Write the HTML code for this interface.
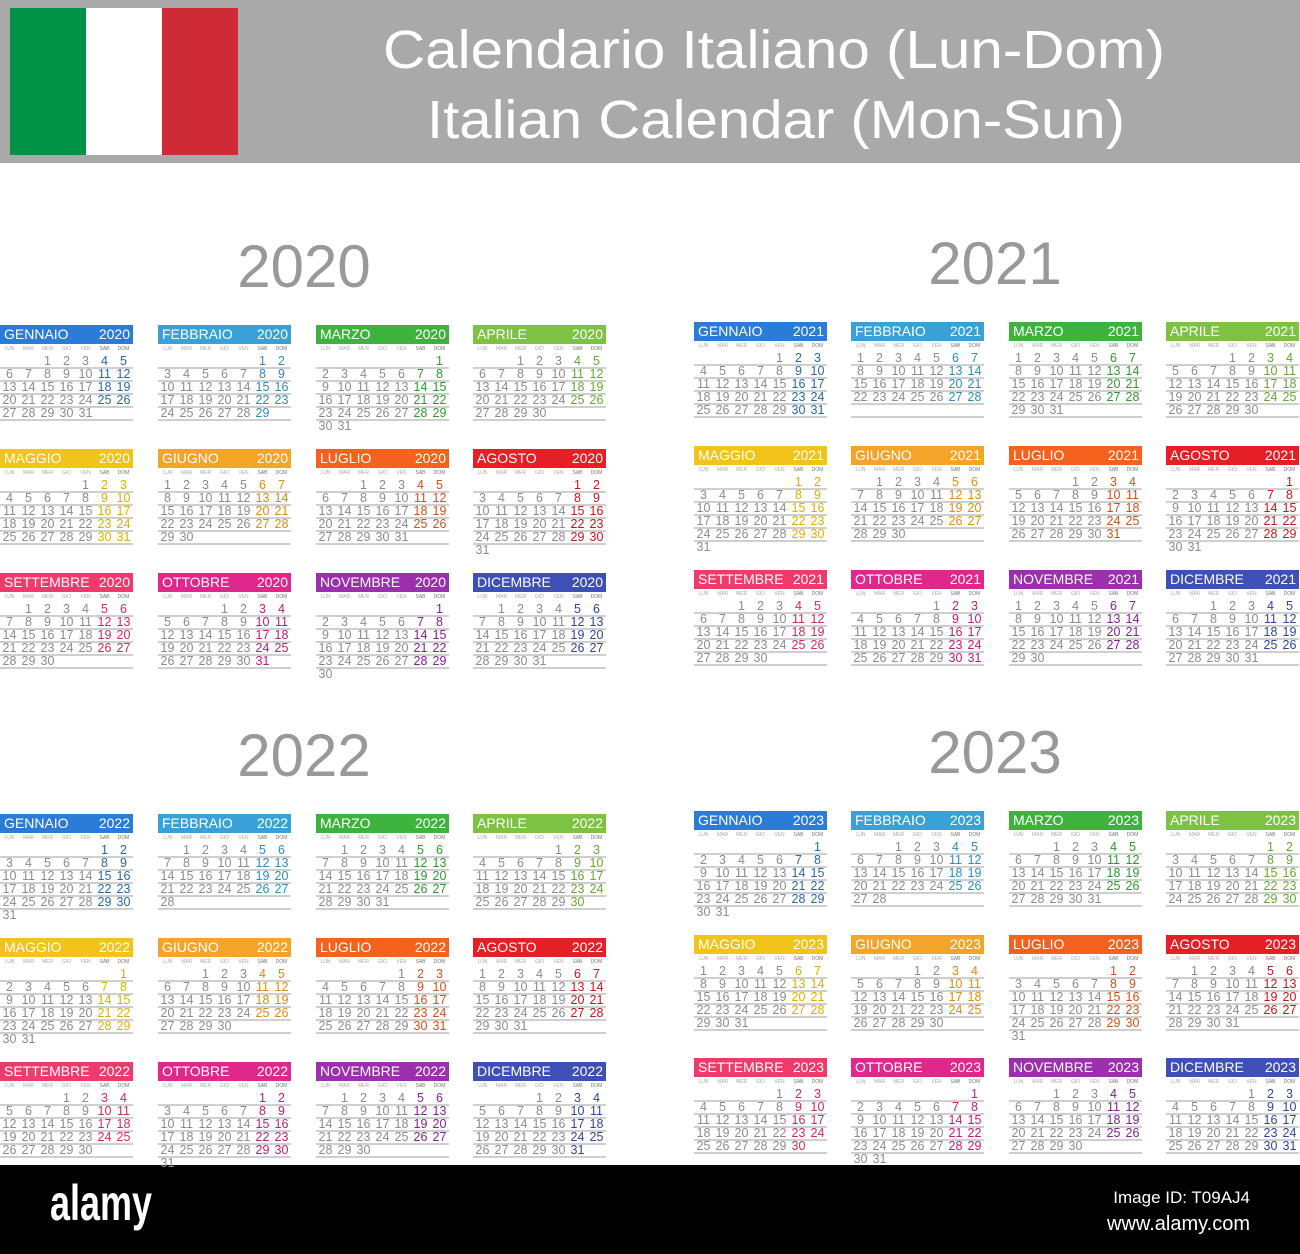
<!DOCTYPE html>
<html><head><meta charset="utf-8">
<style>
html,body{margin:0;padding:0;background:#fff;}
body{width:1300px;height:1254px;position:relative;overflow:hidden;font-family:"Liberation Sans",sans-serif;}
.a{position:absolute;}
.hd{position:absolute;height:19px;color:#fff;font-size:14px;line-height:19px;}
.hd .n{position:absolute;left:4px;top:0;}
.hd .y{position:absolute;right:3px;top:0;}
.dn{position:absolute;width:19px;text-align:center;font-size:5px;color:#aaa;}
.num{position:absolute;width:19px;text-align:center;font-size:12.5px;line-height:13px;height:13px;color:#8c8c8c;}
.ln{position:absolute;height:1.5px;background:#cfcfcf;}
.yr{position:absolute;font-size:60px;color:#999;text-align:center;width:200px;line-height:60px;}
</style></head><body>
<div class="a" style="left:0;top:0;width:1300px;height:163px;background:#a9a9a9"></div>
<div class="a" style="left:10px;top:8px;width:76px;height:147px;background:#009246"></div>
<div class="a" style="left:86px;top:8px;width:76px;height:147px;background:#fff"></div>
<div class="a" style="left:162px;top:8px;width:76px;height:147px;background:#ce2b37"></div>
<svg class="a" style="left:0;top:0" width="1300" height="163">
<text x="383" y="68" font-family="Liberation Sans" font-size="54" fill="#fff" textLength="782" lengthAdjust="spacingAndGlyphs">Calendario Italiano (Lun-Dom)</text>
<text x="427" y="138" font-family="Liberation Sans" font-size="54" fill="#fff" textLength="698" lengthAdjust="spacingAndGlyphs">Italian Calendar (Mon-Sun)</text>
</svg>
<div class="a" style="left:0;top:1165px;width:1300px;height:89px;background:#000"></div>
<svg class="a" style="left:0;top:1165px" width="1300" height="89">
<text x="50" y="55" font-family="Liberation Sans" font-weight="bold" font-size="50" fill="#fff" textLength="102" lengthAdjust="spacingAndGlyphs">alamy</text>
<text x="1250" y="38" font-family="Liberation Sans" font-size="17" fill="#fff" text-anchor="end">Image ID: T09AJ4</text>
<text x="1250" y="65" font-family="Liberation Sans" font-size="20" fill="#fff" text-anchor="end">www.alamy.com</text>
</svg>
<div id="c"></div>
<script>
var names=["GENNAIO","FEBBRAIO","MARZO","APRILE","MAGGIO","GIUGNO","LUGLIO","AGOSTO","SETTEMBRE","OTTOBRE","NOVEMBRE","DICEMBRE"];
var hc=["#2b7bd8","#38a2d8","#3db33d","#7dc242","#f2c318","#f5a42a","#f4621e","#e61e25","#ee3b6c","#e0288c","#9c2fae","#3e4fb5"];
var wc=["#2a68a8","#2b8cbf","#2e9a2e","#66a830","#dcb000","#e08c10","#d4501a","#c8161c","#d42a5a","#c01c78","#862096","#34449e"];
var dn=["LUN","MAR","MER","GIO","VEN","SAB","DOM"];
var blocks=[{y:2020,xs:[0,158,316,473],ts:[325,449,573],yx:304,yb:290},
{y:2021,xs:[694,851,1009,1166],ts:[322,446,570],yx:995,yb:287},
{y:2022,xs:[0,158,316,473],ts:[814,938,1062],yx:304,yb:779},
{y:2023,xs:[694,851,1009,1166],ts:[811,935,1058],yx:995,yb:776}];
var h="";
blocks.forEach(function(b){
 h+='<div class="yr" style="left:'+(b.yx-100)+'px;top:'+(b.yb-53)+'px">'+b.y+'</div>';
 for(var m=0;m<12;m++){
  var x=b.xs[m%4],t=b.ts[Math.floor(m/4)];
  h+='<div class="hd" style="left:'+x+'px;top:'+t+'px;width:133px;background:'+hc[m]+'"><span class="n">'+names[m]+'</span><span class="y">'+b.y+'</span></div>';
  for(var d=0;d<7;d++)h+='<div class="dn" style="left:'+(x+d*19)+'px;top:'+(t+21)+'px;'+(d>4?'color:#777':'')+'">'+dn[d]+'</div>';
  for(var r=0;r<5;r++)h+='<div class="ln" style="left:'+x+'px;top:'+(t+42+13*r)+'px;width:133px"></div>';
  var off=(new Date(b.y,m,1).getDay()+6)%7,nd=new Date(b.y,m+1,0).getDate();
  for(var i=1;i<=nd;i++){var p=off+i-1,c=p%7,r=Math.floor(p/7);
   h+='<div class="num" style="left:'+(x+c*19)+'px;top:'+(t+29.5+13*r)+'px;'+(c>4?'color:'+wc[m]:'')+'">'+i+'</div>';}
 }
});
document.getElementById("c").innerHTML=h;
</script>
</body></html>
